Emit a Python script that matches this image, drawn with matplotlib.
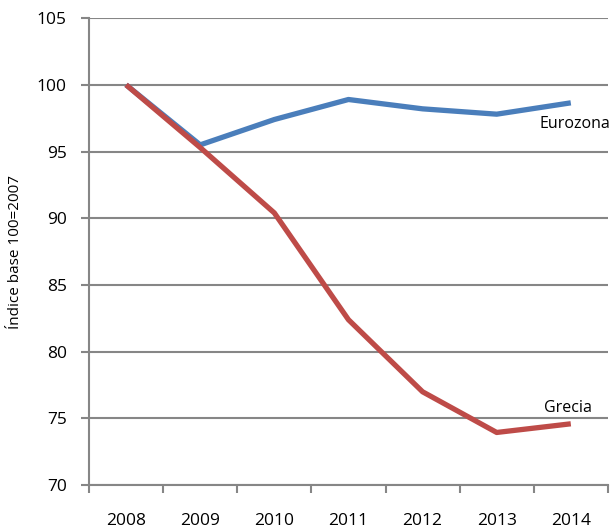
import matplotlib
matplotlib.use("Agg")
import matplotlib.pyplot as plt

years = ["2008", "2009", "2010", "2011", "2012", "2013", "2014"]
eurozona = [100.0, 95.5, 97.4, 98.9, 98.2, 97.8, 98.65]
grecia = [100.0, 95.3, 90.4, 82.4, 77.0, 73.95, 74.6]

plt.rcParams['font.family'] = ['Open Sans', 'DejaVu Sans']
grid_c = '#868686'

fig = plt.figure(figsize=(6.14, 5.32), dpi=100)
ax = fig.add_axes([0.145, 0.088, 0.845, 0.878])

x = list(range(len(years)))
ax.plot(x, eurozona, color='#4a7ebb', lw=3.8, solid_capstyle='butt', zorder=3)
ax.plot(x, grecia, color='#be4b48', lw=3.8, solid_capstyle='butt', zorder=4)

ax.text(5.58, 97.1, "Eurozona", fontsize=11.5, va='center', ha='left')
ax.text(5.64, 75.8, "Grecia", fontsize=11.5, va='center', ha='left')

ax.set_xlim(-0.5, 6.5)
ax.set_ylim(70, 105)
ax.set_yticks(range(70, 106, 5))
ax.yaxis.grid(True, color=grid_c, lw=1.5)
ax.set_axisbelow(True)

ax.set_xticks([i - 0.5 for i in range(len(years) + 1)])
ax.set_xticklabels([])
ax.set_xticks(x, minor=True)
ax.set_xticklabels(years, minor=True, fontsize=12.5)
ax.tick_params(axis='x', which='minor', length=0, pad=20)
ax.tick_params(axis='x', which='major', length=6, width=1.5, color=grid_c)
ax.tick_params(axis='y', length=6, width=1.5, color=grid_c, pad=10, labelsize=12.5)

for s in ['top', 'right']:
    ax.spines[s].set_visible(False)
for s in ['left', 'bottom']:
    ax.spines[s].set_color(grid_c)
    ax.spines[s].set_linewidth(1.5)

ax.set_ylabel("Índice base 100=2007", fontsize=11, labelpad=10)

fig.savefig("out.png", dpi=100)
